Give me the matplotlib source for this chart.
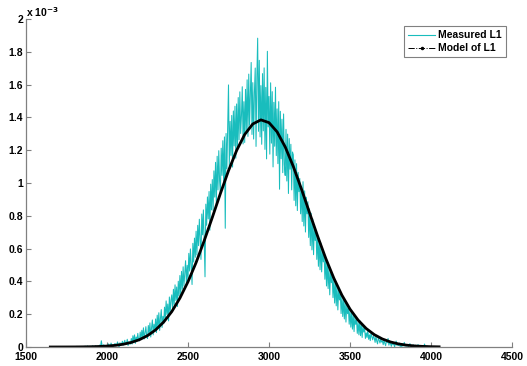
import numpy as np
import matplotlib
matplotlib.use("Agg")
import matplotlib.pyplot as plt
from matplotlib.lines import Line2D
from matplotlib.ticker import FuncFormatter

plt.rcParams["font.family"] = ["Liberation Sans", "DejaVu Sans"]
plt.rcParams["font.weight"] = "bold"

# measured L1, x = 1700 .. 3995 step 5, values in units of 1e-3
MEAS_X0, MEAS_STEP = 1700, 5
measured = [
    0.000, 0.001, 0.000, 0.000, 0.002, 0.000, 0.001, 0.000, 0.000, 0.001,
    0.001, 0.000, 0.002, 0.000, 0.001, 0.003, 0.000, 0.001, 0.000, 0.002,
    0.002, 0.000, 0.001, 0.004, 0.000, 0.002, 0.000, 0.003, 0.001, 0.000,
    0.000, 0.003, 0.001, 0.005, 0.000, 0.002, 0.006, 0.000, 0.001, 0.004,
    0.003, 0.000, 0.007, 0.002, 0.004, 0.000, 0.008, 0.001, 0.003, 0.006,
    0.004, 0.012, 0.000, 0.038, 0.006, 0.001, 0.014, 0.003, 0.009, 0.000,
    0.011, 0.002, 0.019, 0.006, 0.000, 0.024, 0.008, 0.013, 0.003, 0.017,
    0.021, 0.006, 0.014, 0.031, 0.009, 0.000, 0.026, 0.012, 0.019, 0.035,
    0.012, 0.028, 0.041, 0.015, 0.022, 0.047, 0.009, 0.033, 0.026, 0.018,
    0.052, 0.018, 0.069, 0.031, 0.074, 0.022, 0.061, 0.037, 0.083, 0.045,
    0.037, 0.091, 0.046, 0.102, 0.058, 0.117, 0.049, 0.088, 0.124, 0.063,
    0.052, 0.131, 0.083, 0.147, 0.061, 0.118, 0.165, 0.074, 0.139, 0.096,
    0.171, 0.088, 0.194, 0.122, 0.209, 0.101, 0.176, 0.228, 0.119, 0.187,
    0.142, 0.243, 0.176, 0.281, 0.198, 0.262, 0.159, 0.305, 0.213, 0.287,
    0.318, 0.221, 0.352, 0.259, 0.379, 0.284, 0.366, 0.247, 0.401, 0.312,
    0.436, 0.318, 0.461, 0.352, 0.489, 0.371, 0.452, 0.526, 0.389, 0.498,
    0.412, 0.571, 0.463, 0.598, 0.502, 0.381, 0.632, 0.518, 0.664, 0.547,
    0.706, 0.561, 0.742, 0.618, 0.779, 0.652, 0.534, 0.811, 0.684, 0.836,
    0.652, 0.428, 0.871, 0.742, 0.915, 0.781, 0.948, 0.712, 0.993, 0.836,
    1.021, 0.832, 1.074, 0.914, 1.126, 0.872, 1.163, 0.958, 1.197, 1.012,
    0.934, 1.212, 1.046, 1.258, 0.998, 1.281, 0.724, 1.302, 1.087, 1.334,
    1.598, 1.104, 1.376, 1.168, 1.412, 1.097, 1.439, 1.226, 1.468, 1.151,
    1.482, 1.196, 1.521, 1.263, 1.556, 1.302, 1.412, 1.587, 1.238, 1.496,
    1.247, 1.571, 1.318, 1.629, 1.284, 1.664, 1.352, 1.542, 1.735, 1.296,
    1.612, 1.268, 1.553, 1.701, 1.223, 1.642, 1.883, 1.315, 1.748, 1.281,
    1.594, 1.236, 1.667, 1.318, 1.702, 1.205, 1.583, 1.147, 1.803, 1.342,
    1.528, 1.176, 1.611, 1.243, 1.557, 1.098, 1.492, 1.224, 1.584, 1.167,
    1.452, 1.118, 1.496, 0.962, 1.437, 1.148, 1.389, 1.063, 1.421, 1.112,
    1.046, 1.327, 1.012, 1.298, 0.936, 1.271, 1.084, 1.236, 0.958, 1.189,
    1.172, 0.894, 1.141, 0.861, 1.118, 0.832, 1.065, 0.947, 1.028, 0.812,
    0.974, 0.765, 1.008, 0.738, 0.952, 0.701, 0.913, 0.812, 0.886, 0.668,
    0.842, 0.618, 0.816, 0.592, 0.781, 0.563, 0.747, 0.649, 0.712, 0.534,
    0.681, 0.492, 0.658, 0.471, 0.634, 0.458, 0.597, 0.519, 0.571, 0.413,
    0.548, 0.372, 0.521, 0.356, 0.486, 0.318, 0.467, 0.392, 0.438, 0.301,
    0.421, 0.268, 0.402, 0.251, 0.378, 0.226, 0.352, 0.287, 0.329, 0.204,
    0.312, 0.186, 0.297, 0.171, 0.281, 0.152, 0.258, 0.203, 0.241, 0.139,
    0.224, 0.121, 0.213, 0.109, 0.197, 0.094, 0.182, 0.138, 0.171, 0.083,
    0.152, 0.074, 0.161, 0.069, 0.137, 0.058, 0.128, 0.091, 0.117, 0.052,
    0.086, 0.058, 0.103, 0.047, 0.074, 0.039, 0.091, 0.062, 0.044, 0.069,
    0.054, 0.028, 0.067, 0.036, 0.019, 0.058, 0.041, 0.024, 0.049, 0.030,
    0.037, 0.014, 0.045, 0.022, 0.008, 0.039, 0.026, 0.052, 0.011, 0.029,
    0.021, 0.004, 0.032, 0.013, 0.027, 0.000, 0.018, 0.036, 0.009, 0.015,
    0.009, 0.024, 0.002, 0.015, 0.000, 0.019, 0.007, 0.028, 0.004, 0.012,
    0.005, 0.016, 0.000, 0.010, 0.021, 0.003, 0.008, 0.000, 0.014, 0.002,
    0.000, 0.011, 0.004, 0.000, 0.015, 0.002, 0.007, 0.000, 0.009, 0.001,
    0.003, 0.000, 0.018, 0.001, 0.000, 0.006, 0.000, 0.002, 0.000, 0.001,
]

# model of L1, x = 1650 .. 4050 step 50, values in units of 1e-3
MODEL_X0, MODEL_STEP = 1650, 50
model = [
    0.0000, 0.0001, 0.0002, 0.0004, 0.0009, 0.0017, 0.0031, 0.0057, 0.0099,
    0.0168, 0.0279, 0.0446, 0.0693, 0.1043, 0.1525, 0.216, 0.298, 0.398,
    0.515, 0.648, 0.790, 0.936, 1.075, 1.198, 1.296, 1.360, 1.385, 1.368,
    1.312, 1.220, 1.101, 0.964, 0.819, 0.676, 0.541, 0.420, 0.316, 0.231,
    0.164, 0.1127, 0.0753, 0.0488, 0.0307, 0.0187, 0.0111, 0.0064, 0.0036,
    0.0019, 0.0010,
]

x_ticks = [1500, 2000, 2500, 3000, 3500, 4000, 4500]
y_ticks = [0, 0.2, 0.4, 0.6, 0.8, 1.0, 1.2, 1.4, 1.6, 1.8, 2.0]

CYAN = "#19BDBD"

meas_x = MEAS_X0 + MEAS_STEP * np.arange(len(measured))
model_x = MODEL_X0 + MODEL_STEP * np.arange(len(model))

fig = plt.figure(figsize=(5.27, 3.66), dpi=100)
ax = fig.add_axes([26 / 527, 19 / 366, 486 / 527, 328 / 366])

ax.plot(meas_x, np.array(measured) * 1e-3, color=CYAN, lw=0.75)
ax.plot(model_x, np.array(model) * 1e-3, color="black", lw=2.0)

ax.set_xlim(1500, 4500)
ax.set_ylim(0, 2e-3)
ax.set_xticks(x_ticks)
ax.set_yticks([v * 1e-3 for v in y_ticks])
ax.yaxis.set_major_formatter(FuncFormatter(lambda v, p: "%g" % round(v * 1e3, 3)))

for s in ["top", "right"]:
    ax.spines[s].set_visible(False)
for s in ["left", "bottom"]:
    ax.spines[s].set_color("#808080")
    ax.spines[s].set_linewidth(0.9)
ax.tick_params(direction="in", length=3.5, width=0.8, color="#808080",
               labelsize=7.5)
ax.tick_params(axis="x", pad=3.5)
ax.tick_params(axis="y", pad=2)
for lab in ax.get_xticklabels() + ax.get_yticklabels():
    lab.set_fontweight("bold")

ax.text(0.0, 1.0, r"x 10$^{\mathbf{-3}}$", transform=ax.transAxes, fontsize=7.5,
        fontweight="bold", ha="left", va="bottom")

handles = [
    Line2D([], [], color=CYAN, lw=0.8),
    Line2D([], [], color="black", lw=0.7, ls="-.", marker=".", markersize=3),
]
leg = fig.legend(handles, ["Measured L1", "Model of L1"], loc="upper right",
                 bbox_to_anchor=(506 / 527, 340 / 366), bbox_transform=fig.transFigure,
                 fancybox=False, framealpha=1, edgecolor="#808080",
                 prop={"size": 7.5, "weight": "bold"}, handlelength=2.6,
                 borderpad=0.4, labelspacing=0.3, handletextpad=0.3, borderaxespad=0)
leg.get_frame().set_linewidth(0.8)

fig.savefig("out.png", dpi=100)
